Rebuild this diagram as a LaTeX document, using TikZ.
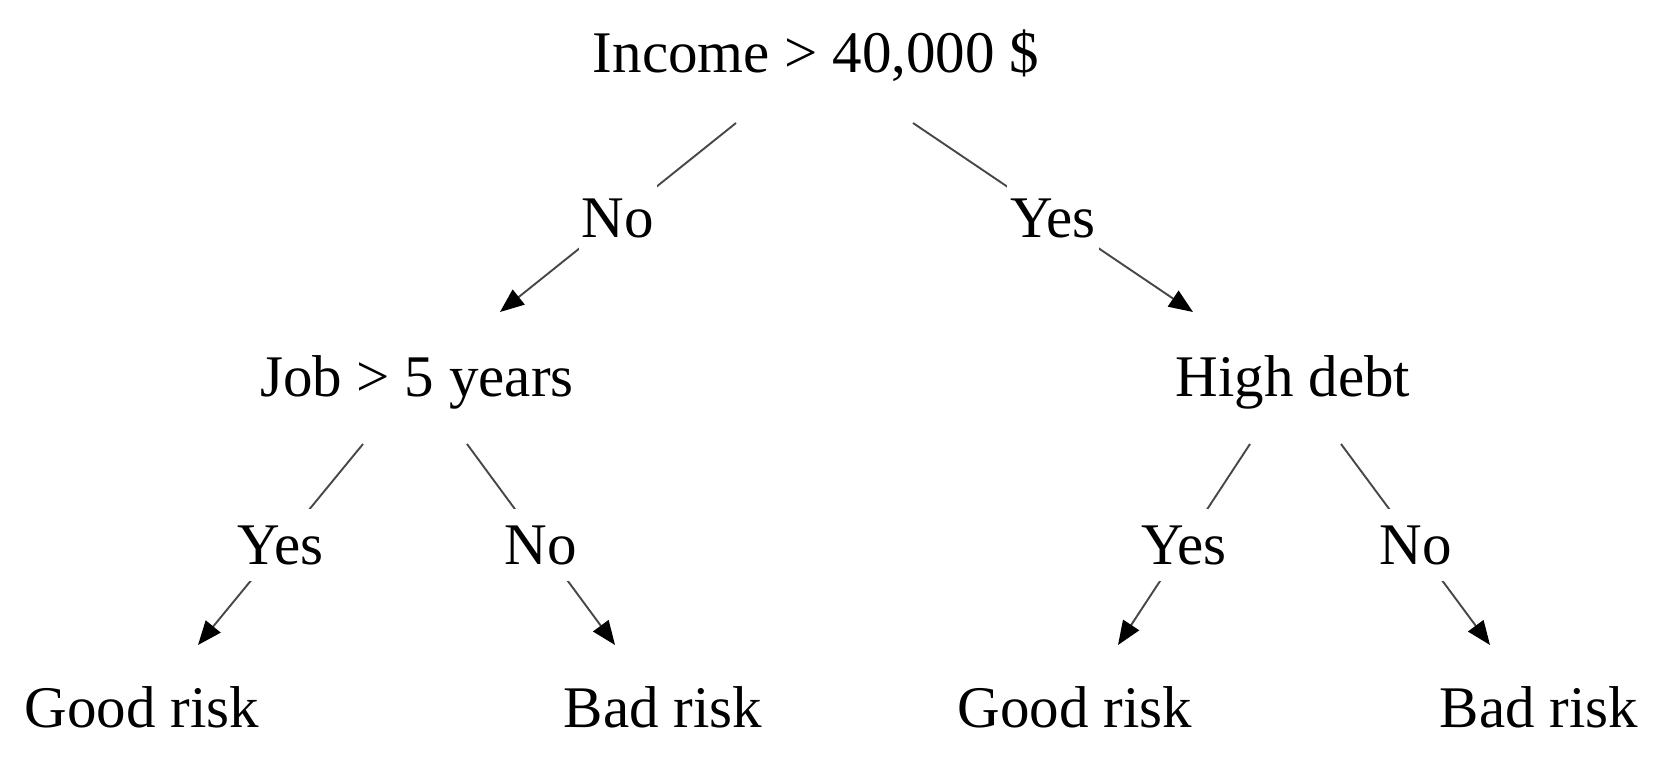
\documentclass[tikz,border=0pt]{standalone}
\usepackage{fontspec}
\setmainfont{Liberation Serif}
\usetikzlibrary{arrows.meta}
\begin{document}
\begin{tikzpicture}[x=1pt,y=-1pt,
  txt/.style={font=\fontsize{59}{62}\selectfont, inner sep=0pt, anchor=base, text=black},
  lbl/.style={font=\fontsize{59}{62}\selectfont, fill=white, text height=39pt, text depth=0pt,
              inner xsep=3pt, inner ysep=0pt, minimum height=72pt, text=black},
  conn/.style={draw=black!72, line width=1.9pt, -{Triangle[length=24pt,width=19pt,color=black]}}]
\useasboundingbox[fill=white] (0,0) rectangle (1656,761);
% nodes
\node[txt] (root) at (816,72) {Income > 40,000 \$};
\node[txt] (job)  at (417,396) {Job > 5 years};
\node[txt] (debt) at (1293,396) {High debt};
\node[txt] (g1) at (142,727) {Good risk};
\node[txt] (b1) at (663,727) {Bad risk};
\node[txt] (g2) at (1075,727) {Good risk};
\node[txt] (b2) at (1539,727) {Bad risk};
% connector ends
\coordinate (rootL) at (736,123);  \coordinate (jobT)  at (500,312);
\coordinate (rootR) at (913,123);  \coordinate (debtT) at (1193,312);
\coordinate (jobL)  at (363,444);  \coordinate (g1T)   at (198,645);
\coordinate (jobR)  at (467,444);  \coordinate (b1T)   at (615,645);
\coordinate (debtL) at (1250,444); \coordinate (g2T)   at (1118,645);
\coordinate (debtR) at (1341,444); \coordinate (b2T)   at (1490,645);
% connectors
\draw[conn] (rootL) -- node[lbl] {No} (jobT);
\draw[conn] (rootR) -- node[lbl] {Yes} (debtT);
\draw[conn] (jobL) -- node[lbl] {Yes} (g1T);
\draw[conn] (jobR) -- node[lbl] {No} (b1T);
\draw[conn] (debtL) -- node[lbl] {Yes} (g2T);
\draw[conn] (debtR) -- node[lbl] {No} (b2T);
\end{tikzpicture}
\end{document}
